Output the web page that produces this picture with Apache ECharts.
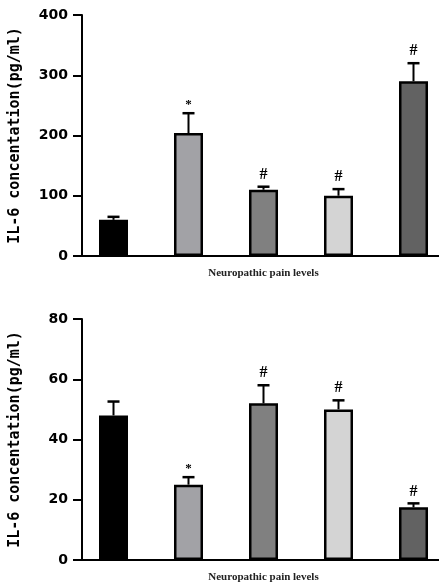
<!DOCTYPE html>
<html lang="en">
<head>
    <meta charset="UTF-8">
    <title>IL-6</title>
    <script src="https://cdn.jsdelivr.net/npm/echarts@6/dist/echarts.min.js"></script>
    <style>
        * { margin: 0; padding: 0; }
        body { background: #fff; }
        #main { width: 439px; height: 583px; }
    </style>
</head>
<body>
    <div id="main"></div>
    <script>
        // groups (no labels shown on the axis)
        let groups = ['G1', 'G2', 'G3', 'G4', 'G5'];
        let barColors = ['#000000', '#a2a2a6', '#808080', '#d4d4d4', '#626262'];

        // top panel
        let topMeans = [60, 204, 110, 100, 290];
        let topUpper = [65, 237, 115, 111, 320];
        let topMarks = ['', '*', '#', '#', '#'];
        let topTicks = [0, 100, 200, 300, 400];

        // bottom panel
        let bottomMeans = [48, 25, 52, 50, 17.5];
        let bottomUpper = [52.6, 27.5, 58, 53, 18.8];
        let bottomMarks = ['', '*', '#', '#', '#'];
        let bottomTicks = [0, 20, 40, 60, 80];

        let yName = 'IL-6 concentation(pg/ml)';
        let xName = 'Neuropathic pain levels';

        let myChart = echarts.init(document.getElementById('main'));

        function xAxisOf(gridIndex) {
            return {
                type: 'category',
                gridIndex: gridIndex,
                data: groups,
                axisLine: { lineStyle: { color: '#000', width: 2 } },
                axisTick: { show: false },
                axisLabel: { show: false },
                name: xName,
                nameLocation: 'middle',
                nameGap: 12,
                nameTextStyle: {
                    fontFamily: 'Liberation Serif',
                    fontWeight: 'bold',
                    fontSize: 11,
                    color: '#222'
                }
            };
        }

        function yAxisOf(gridIndex, ticks) {
            return {
                type: 'value',
                gridIndex: gridIndex,
                min: ticks[0],
                max: ticks[ticks.length - 1],
                interval: ticks[1] - ticks[0],
                offset: -6,
                splitLine: { show: false },
                axisLine: { show: true, lineStyle: { color: '#000', width: 2 } },
                axisTick: { show: true, length: 9, lineStyle: { color: '#000', width: 2 } },
                axisLabel: {
                    margin: 14,
                    fontFamily: 'DejaVu Sans',
                    fontWeight: 'bold',
                    fontSize: 14,
                    color: '#000'
                },
                name: yName,
                nameLocation: 'middle',
                nameGap: 59,
                nameRotate: 90,
                nameTextStyle: {
                    fontFamily: 'DejaVu Sans Mono',
                    fontWeight: 'bold',
                    fontSize: 15,
                    color: '#000'
                }
            };
        }

        function barSeries(idx, means) {
            return {
                type: 'bar',
                xAxisIndex: idx,
                yAxisIndex: idx,
                barWidth: 29,
                data: means.map((v, i) => ({
                    value: v,
                    itemStyle: { color: barColors[i], borderColor: '#000', borderWidth: 2.5 }
                })),
                z: 2
            };
        }

        function errSeries(idx, means, upper, marks) {
            return {
                type: 'custom',
                xAxisIndex: idx,
                yAxisIndex: idx,
                data: means.map((v, i) => [i, v, upper[i]]),
                renderItem: function (params, api) {
                    let base = api.coord([api.value(0), api.value(1)]);
                    let top = api.coord([api.value(0), api.value(2)]);
                    let mark = marks[params.dataIndex];
                    let half = 6;
                    let children = [
                        { type: 'line', shape: { x1: base[0], y1: base[1], x2: top[0], y2: top[1] },
                          style: { stroke: '#000', lineWidth: 2 } },
                        { type: 'line', shape: { x1: top[0] - half, y1: top[1], x2: top[0] + half, y2: top[1] },
                          style: { stroke: '#000', lineWidth: 2.5 } }
                    ];
                    if (mark) {
                        children.push({
                            type: 'text',
                            style: {
                                text: mark,
                                x: top[0],
                                y: top[1] - (mark === '*' ? 2 : 4),
                                align: 'center',
                                verticalAlign: 'bottom',
                                font: mark === '*' ? 'bold 13px "Liberation Serif"' : 'bold 16px "Liberation Serif"',
                                fill: '#000'
                            }
                        });
                    }
                    return { type: 'group', children: children };
                },
                z: 3
            };
        }

        let option = {
            animation: false,
            backgroundColor: '#fff',
            grid: [
                { left: 76, width: 375, top: 15, height: 241, outerBoundsMode: 'none' },
                { left: 76, width: 375, top: 319, height: 241, outerBoundsMode: 'none' }
            ],
            xAxis: [xAxisOf(0), xAxisOf(1)],
            yAxis: [yAxisOf(0, topTicks), yAxisOf(1, bottomTicks)],
            series: [
                barSeries(0, topMeans),
                errSeries(0, topMeans, topUpper, topMarks),
                barSeries(1, bottomMeans),
                errSeries(1, bottomMeans, bottomUpper, bottomMarks)
            ]
        };

        myChart.setOption(option);
    </script>
</body>
</html>
